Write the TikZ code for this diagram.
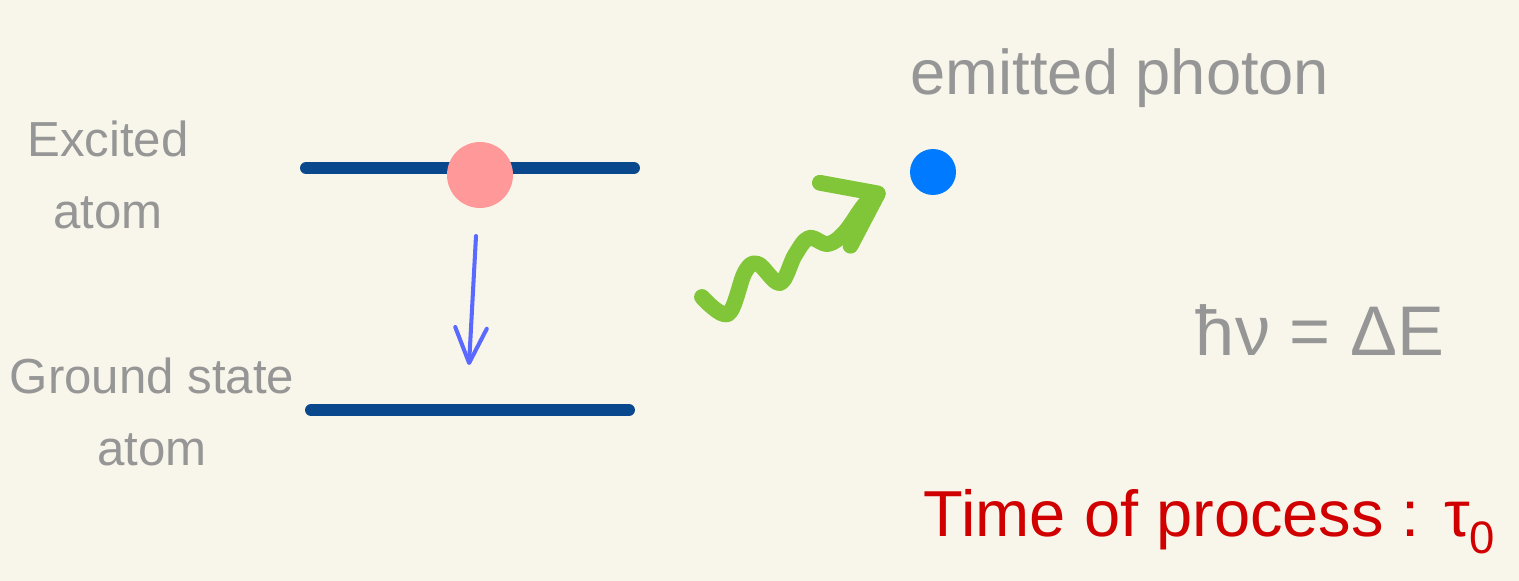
\documentclass[tikz,border=0pt]{standalone}
\usepackage{fontspec}
\setmainfont{Liberation Sans}
\usetikzlibrary{arrows.meta}
\definecolor{paper}{RGB}{248,246,234}
\definecolor{levelblue}{RGB}{10,72,142}
\definecolor{atompink}{RGB}{255,153,153}
\definecolor{dropblue}{RGB}{90,105,255}
\definecolor{wavegreen}{RGB}{128,198,56}
\definecolor{photonblue}{RGB}{0,122,255}
\definecolor{inkgray}{RGB}{150,150,150}
\definecolor{inkred}{RGB}{208,0,0}

\begin{document}
\begin{tikzpicture}[
x=0.02cm,y=-0.02cm,
levelline/.style={line width=6.8pt,line cap=round,draw=levelblue},
handtext/.style={text=inkgray,font=\fontsize{28}{41}\selectfont,align=center},
dot/.style={circle,inner sep=0pt,minimum size=#1},
drop/.style={-{Straight Barb[length=20pt,width=18pt,round]},line width=2.3pt,draw=dropblue,line cap=round},
wave/.style={-{Straight Barb[length=0.95cm,width=1.4cm,round]},line width=9pt,draw=wavegreen,line cap=round,line join=round}
]
\fill[paper] (0,0) rectangle (1519,581);
\useasboundingbox (0,0) rectangle (1519,581);

% energy levels
\coordinate (upL) at (306,168);
\coordinate (upR) at (634,168);
\coordinate (lowL) at (311,410);
\coordinate (lowR) at (629,410);
\draw[levelline] (upL) -- (upR);
\draw[levelline] (lowL) -- (lowR);

\node[dot=1.32cm,fill=atompink] (atom) at (480,175) {};
\node[dot=0.92cm,fill=photonblue] (photon) at (933,172) {};

% decay
\coordinate (dropS) at (476,236);
\coordinate (dropE) at (469,365);
\draw[drop] (dropS) -- (dropE);

% emitted wave
\coordinate (waveS) at (702,297);
\coordinate (waveE) at (885,190);
\draw[wave] plot[smooth,tension=0.6] coordinates {(waveS) (728,314) (745,272) (758,264) (780,283) (795,255) (809,238) (828,244) (845,232) (866,203) (waveE)};

% labels
\node[handtext] (excited) at (108,175) {Excited\\atom};
\node[handtext] (ground) at (152,412) {Ground state\\atom};
\node[handtext,font=\fontsize{36}{40}\selectfont] (emitted) at (1120,78) {emitted photon};
\node[handtext,font=\fontsize{40}{44}\selectfont] (energy) at (1320,330) {ħν = ΔE};
\node[handtext,text=inkred,font=\fontsize{37}{42}\selectfont] (time) at (1210,522) {Time of process : τ\textsubscript{0}};
\end{tikzpicture}
\end{document}
